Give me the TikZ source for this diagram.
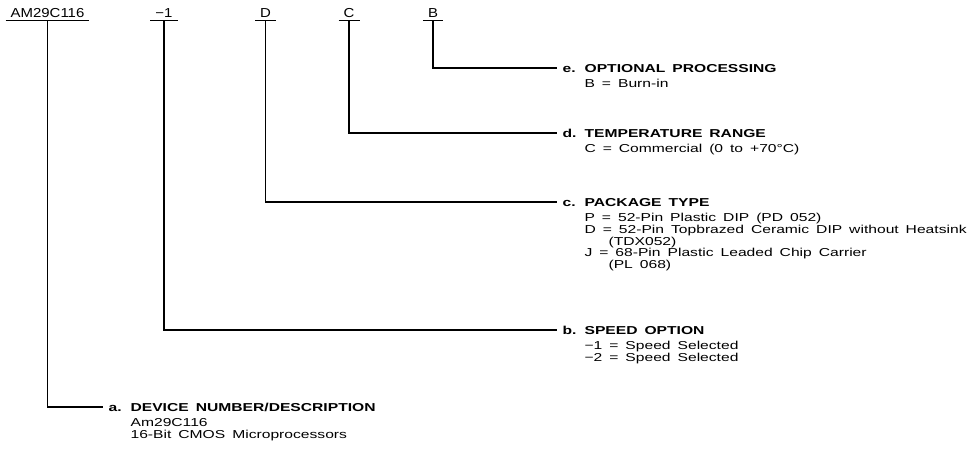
\documentclass[tikz,border=0pt]{standalone}
\usepackage{fontspec}
\setmainfont{Liberation Sans}
\newfontfamily\partfont[FakeStretch=1.15]{Liberation Sans}
\newfontfamily\codefont[FakeStretch=1.36,WordSpace=1.6]{Liberation Sans}
\usetikzlibrary{positioning}

\begin{document}
\begin{tikzpicture}[x=1pt, y=-1pt, line width=1.2pt,
    partno/.style={font=\partfont\fontsize{13}{13}\selectfont, inner xsep=4.5pt, inner ysep=3pt, anchor=base},
    heading/.style={font=\codefont\bfseries\fontsize{11.5}{11.5}\selectfont, inner xsep=5pt, inner ysep=0pt, text height=8pt, text depth=0pt, anchor=west},
    body/.style={font=\codefont\fontsize{11.5}{11.8}\selectfont, inner sep=0pt, align=left, anchor=north west}]
    \useasboundingbox (0,0) rectangle (972,456);

    \node[partno] (dev) at (47.5,17) {AM29C116};
    \node[partno] (spd) at (164,17) {−1};
    \node[partno] (pkg) at (265.5,17) {D};
    \node[partno] (tmp) at (349,17) {C};
    \node[partno] (prc) at (433,17) {B};
    \foreach \p in {dev,spd,pkg,tmp,prc}
        \draw (\p.south west) -- (\p.south east);

    \node[heading] (e) at (557,68) {\makebox[22pt][l]{e.}OPTIONAL PROCESSING};
    \node[body] (eb) at ([xshift=27pt,yshift=-6pt]e.south west) {B = Burn-in};

    \node[heading] (d) at (557,133) {\makebox[22pt][l]{d.}TEMPERATURE RANGE};
    \node[body] (db) at ([xshift=27pt,yshift=-6pt]d.south west) {C = Commercial (0 to +70°C)};

    \node[heading] (c) at (557,202) {\makebox[22pt][l]{c.}PACKAGE TYPE};
    \node[body] (cb) at ([xshift=27pt,yshift=-6pt]c.south west) {P = 52-Pin Plastic DIP (PD 052)\\
        D = 52-Pin Topbrazed Ceramic DIP without Heatsink\\
        \hspace*{24pt}(TDX052)\\
        J = 68-Pin Plastic Leaded Chip Carrier\\
        \hspace*{24pt}(PL 068)};

    \node[heading] (b) at (557,330) {\makebox[22pt][l]{b.}SPEED OPTION};
    \node[body] (bb) at ([xshift=27pt,yshift=-6pt]b.south west) {−1 = Speed Selected\\−2 = Speed Selected};

    \node[heading] (a) at (103,407) {\makebox[22pt][l]{a.}DEVICE NUMBER/DESCRIPTION};
    \node[body] (ab) at ([xshift=27pt,yshift=-6pt]a.south west) {Am29C116\\16-Bit CMOS Microprocessors};

    \draw (prc.south) |- (e.west);
    \draw (tmp.south) |- (d.west);
    \draw (pkg.south) |- (c.west);
    \draw (spd.south) |- (b.west);
    \draw (dev.south) |- (a.west);
\end{tikzpicture}
\end{document}
